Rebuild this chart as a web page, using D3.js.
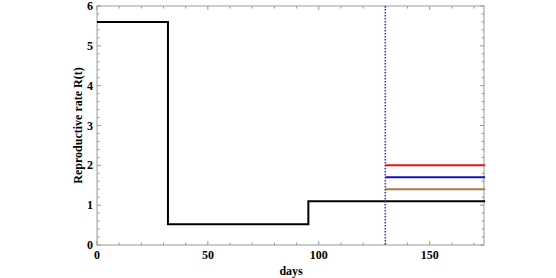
<!DOCTYPE html>
<html>
<head>
<meta charset="utf-8">
<script src="https://cdn.jsdelivr.net/npm/d3@7"></script>
<style>
  body { margin: 0; background: #fff; }
  text { font-family: "Liberation Serif", "DejaVu Serif", serif; font-weight: bold; }
</style>
</head>
<body>
<svg id="chart" width="556" height="278"></svg>
<script>
// step function R(t): breakpoints and values
const stepDays = [0, 32, 95.3, 175];
const stepRates = [5.6, 0.52, 1.1];

// scenario lines after day 130
const scenarioStart = 130;
const scenarioEnd = 175;
const scenarioRates = [2.0, 1.7, 1.4];
const scenarioColors = ['#e8161a', '#1010c0', '#a8784c'];

const xTicks = [0, 50, 100, 150];
const yTicks = [0, 1, 2, 3, 4, 5, 6];

const svg = d3.select('#chart');
const mLeft = 97, mRight = 484, mTop = 6, mBottom = 245;

let x = d3.scaleLinear().domain([0, 174.5]).range([mLeft, mRight]);
let y = d3.scaleLinear().domain([0, 6]).range([mBottom, mTop]);

// frame
svg.append('rect')
  .attr('x', mLeft).attr('y', mTop)
  .attr('width', mRight - mLeft).attr('height', mBottom - mTop)
  .attr('fill', 'none').attr('stroke', '#999').attr('stroke-width', 1);

// minor + major ticks on all sides
const xMinor = d3.range(0, 175, 10);
const yMinor = d3.range(0, 6.01, 0.2);
const tickColor = '#999';

xMinor.forEach(v => {
  const major = v % 50 === 0;
  const len = major ? 4 : 2.5;
  svg.append('line').attr('x1', x(v)).attr('x2', x(v)).attr('y1', mBottom).attr('y2', mBottom - len).attr('stroke', tickColor);
  svg.append('line').attr('x1', x(v)).attr('x2', x(v)).attr('y1', mTop).attr('y2', mTop + len).attr('stroke', tickColor);
});
yMinor.forEach(v => {
  const major = Math.abs(v - Math.round(v)) < 1e-6;
  const len = major ? 4 : 2.5;
  svg.append('line').attr('x1', mLeft).attr('x2', mLeft + len).attr('y1', y(v)).attr('y2', y(v)).attr('stroke', tickColor);
  svg.append('line').attr('x1', mRight).attr('x2', mRight - len).attr('y1', y(v)).attr('y2', y(v)).attr('stroke', tickColor);
});

// tick labels
svg.selectAll('.xl').data(xTicks).enter().append('text')
  .attr('x', d => x(d)).attr('y', mBottom + 14)
  .attr('text-anchor', 'middle').attr('font-size', 12)
  .text(d => d);
svg.selectAll('.yl').data(yTicks).enter().append('text')
  .attr('x', mLeft - 4).attr('y', d => y(d) + 4)
  .attr('text-anchor', 'end').attr('font-size', 12)
  .text(d => d);

// axis titles
svg.append('text')
  .attr('x', x(87.5)).attr('y', 275)
  .attr('text-anchor', 'middle').attr('font-size', 12)
  .text('days');
svg.append('text')
  .attr('transform', `translate(82, ${(mTop + mBottom) / 2}) rotate(-90)`)
  .attr('text-anchor', 'middle').attr('font-size', 12)
  .text('Reproductive rate R(t)');

// scenario lines
scenarioRates.forEach((r, i) => {
  svg.append('line')
    .attr('x1', x(scenarioStart)).attr('x2', x(scenarioEnd))
    .attr('y1', y(r)).attr('y2', y(r))
    .attr('stroke', scenarioColors[i]).attr('stroke-width', 2);
});

// step line
let pts = [];
stepRates.forEach((r, i) => {
  pts.push([stepDays[i], r]);
  pts.push([stepDays[i + 1], r]);
});
let line = d3.line().x(d => x(d[0])).y(d => y(d[1]));
svg.append('path')
  .datum(pts)
  .attr('d', line)
  .attr('fill', 'none').attr('stroke', '#000').attr('stroke-width', 2);

// vertical dotted marker
svg.append('line')
  .attr('x1', x(scenarioStart)).attr('x2', x(scenarioStart))
  .attr('y1', y(6)).attr('y2', y(0))
  .attr('stroke', '#3a3ab0').attr('stroke-width', 1.6)
  .attr('stroke-dasharray', '1.5,1.5');
</script>
</body>
</html>
